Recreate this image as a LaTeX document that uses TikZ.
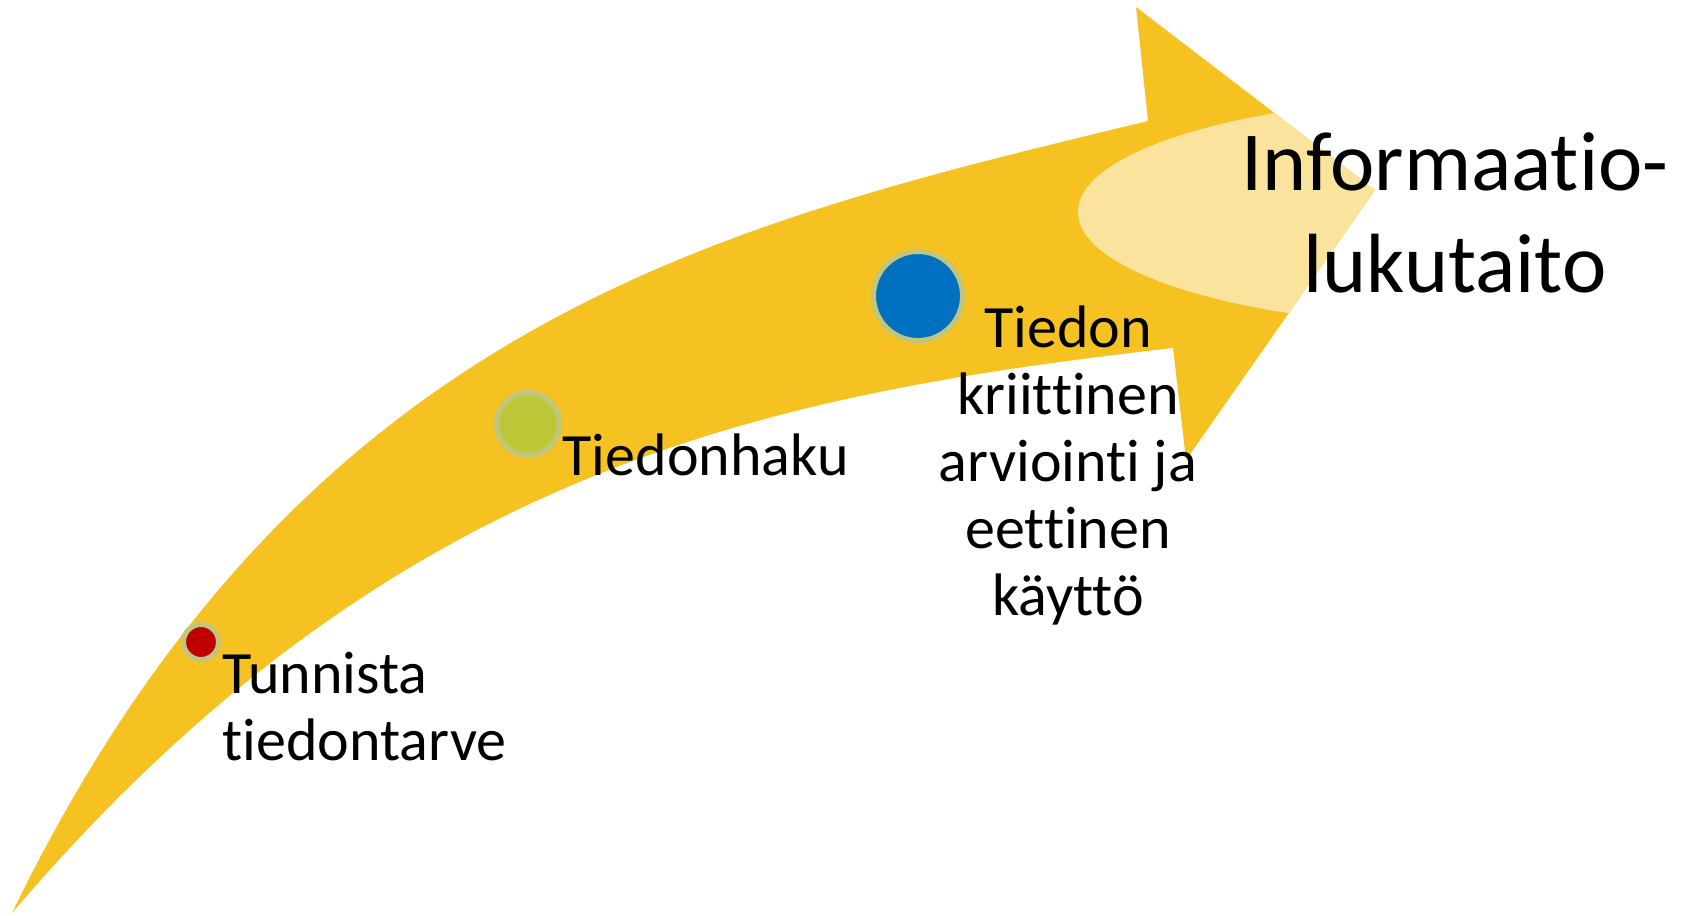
\documentclass[tikz,border=0pt]{standalone}
\usepackage{fontspec}
\setmainfont{Carlito}[Ligatures=NoCommon]
\usepackage{tikz}
\definecolor{arrowgold}{RGB}{246,194,34}
\definecolor{palegold}{RGB}{250,227,157}
\definecolor{ringgray}{RGB}{194,197,124}
\definecolor{dotred}{RGB}{192,0,0}
\definecolor{dotgreen}{RGB}{188,200,55}
\definecolor{dotblue}{RGB}{0,112,192}

\begin{document}
\begin{tikzpicture}[x=0.01cm, y=-0.01cm,
    dot/.style={circle, draw=ringgray, line width=0.05cm, inner sep=0pt},
    lbl/.style={inner sep=0pt, font=\fontsize{17.07}{19.05}\selectfont},
    biglbl/.style={inner sep=0pt, font=\fontsize{23.9}{29}\selectfont}]
    \useasboundingbox (0,0) rectangle (1688,915);

    % the curved arrow, with the pale spot in its head
    \fill[arrowgold, path picture={\fill[palegold] (1480,212) ellipse [x radius=402, y radius=115];}]
        (12,913) .. controls (300,320) and (718,225) .. (1148,121)
        -- (1136,7) -- (1375,190) -- (1186,460) -- (1173,348)
        .. controls (760,395) and (390,470) .. cycle;

    \node[dot, fill=dotred, minimum size=0.35cm] (tunnista) at (201,642) {};
    \node[dot, fill=dotgreen, minimum size=0.63cm] (haku) at (528,424) {};
    \node[dot, fill=dotblue, minimum size=0.89cm] (arviointi) at (918,296) {};

    % base of a node with several lines is its last line
    \node[lbl, anchor=base west, align=left] (tunnistatxt) at (222,760) {Tunnista\\tiedontarve};
    \node[lbl, anchor=base west] (hakutxt) at (562,475) {Tiedonhaku};
    \node[lbl, anchor=base, align=center] (arviointitxt) at (1068,615)
        {Tiedon\\kriittinen\\arviointi ja\\eettinen\\käyttö};
    \node[biglbl, anchor=base, align=center] (lukutaito) at (1455,292) {Informaatio-\\lukutaito};
\end{tikzpicture}
\end{document}
